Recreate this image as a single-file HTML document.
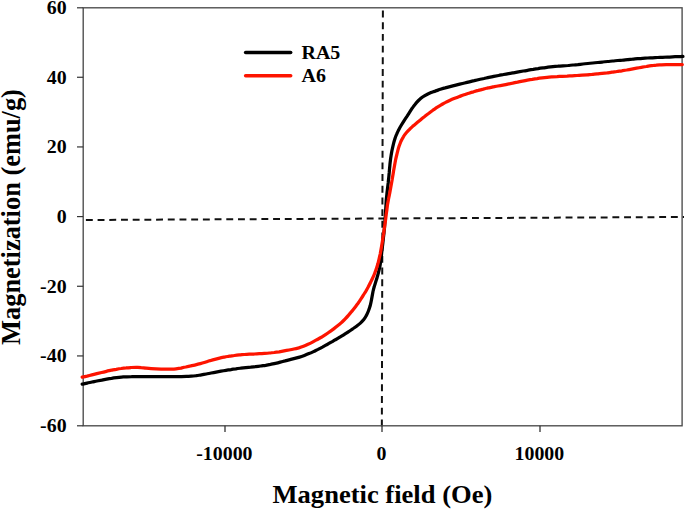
<!DOCTYPE html><html><head><meta charset="utf-8"><title>Magnetization</title>
<style>html,body{margin:0;padding:0;background:#fff}svg{display:block}text{font-family:"Liberation Serif","Times New Roman",serif;font-weight:bold;fill:#000}</style></head><body>
<svg width="685" height="510" viewBox="0 0 685 510">
<rect width="685" height="510" fill="#fff"/>
<line x1="85.9" y1="220" x2="684" y2="217" stroke="#111" stroke-width="2" stroke-dasharray="6.9 4.8"/>
<line x1="382.9" y1="10.6" x2="381.85" y2="426.5" stroke="#111" stroke-width="2" stroke-dasharray="6.9 4.78"/>
<rect x="83.2" y="7.8" width="598.9" height="418.0" fill="none" stroke="#4a4a4a" stroke-width="1.35"/>
<line x1="77" y1="7.80" x2="83.2" y2="7.80" stroke="#333" stroke-width="1.2"/>
<line x1="77" y1="77.27" x2="83.2" y2="77.27" stroke="#333" stroke-width="1.2"/>
<line x1="77" y1="146.93" x2="83.2" y2="146.93" stroke="#333" stroke-width="1.2"/>
<line x1="77" y1="216.60" x2="83.2" y2="216.60" stroke="#333" stroke-width="1.2"/>
<line x1="77" y1="286.27" x2="83.2" y2="286.27" stroke="#333" stroke-width="1.2"/>
<line x1="77" y1="355.93" x2="83.2" y2="355.93" stroke="#333" stroke-width="1.2"/>
<line x1="77" y1="425.80" x2="83.2" y2="425.80" stroke="#333" stroke-width="1.2"/>
<line x1="225.0" y1="425.8" x2="225.0" y2="432" stroke="#333" stroke-width="1.3"/>
<line x1="382.0" y1="425.8" x2="382.0" y2="432" stroke="#333" stroke-width="1.3"/>
<line x1="540.0" y1="425.8" x2="540.0" y2="432" stroke="#333" stroke-width="1.3"/>
<path d="M82.2,384.2 C83.0,384.0 85.5,383.5 87.1,383.1 C88.7,382.7 90.3,382.4 92.0,382.0 C93.6,381.7 95.2,381.3 96.9,381.0 C98.5,380.7 100.1,380.4 101.8,380.1 C103.4,379.8 105.0,379.5 106.7,379.2 C108.3,378.9 110.0,378.6 111.6,378.4 C113.3,378.1 114.9,377.9 116.6,377.7 C118.2,377.5 119.9,377.3 121.5,377.1 C123.2,377.0 124.9,376.8 126.5,376.8 C128.2,376.7 129.8,376.6 131.5,376.6 C133.2,376.5 134.8,376.5 136.5,376.5 C138.2,376.5 139.8,376.5 141.5,376.5 C143.2,376.5 144.8,376.5 146.5,376.5 C148.2,376.5 149.8,376.5 151.5,376.5 C153.2,376.5 154.8,376.5 156.5,376.5 C158.2,376.5 159.8,376.5 161.5,376.5 C163.2,376.5 164.8,376.5 166.5,376.5 C168.2,376.5 169.8,376.5 171.5,376.5 C173.2,376.5 174.8,376.5 176.5,376.5 C178.2,376.5 179.8,376.5 181.5,376.5 C183.2,376.5 184.8,376.5 186.5,376.4 C188.2,376.4 189.8,376.3 191.5,376.2 C193.2,376.1 194.8,375.9 196.5,375.7 C198.1,375.4 199.7,375.2 201.4,374.9 C203.0,374.6 204.7,374.3 206.3,374.0 C207.9,373.7 209.6,373.3 211.2,373.0 C212.8,372.7 214.5,372.4 216.1,372.1 C217.8,371.8 219.4,371.5 221.0,371.2 C222.7,370.9 224.3,370.6 226.0,370.3 C227.6,370.1 229.3,369.8 230.9,369.6 C232.6,369.3 234.2,369.1 235.9,368.9 C237.5,368.6 239.2,368.4 240.8,368.2 C242.5,368.0 244.1,367.8 245.8,367.6 C247.4,367.4 249.1,367.2 250.7,367.1 C252.4,366.9 254.1,366.7 255.7,366.6 C257.4,366.4 259.0,366.2 260.7,366.0 C262.3,365.8 264.0,365.5 265.6,365.3 C267.3,365.0 268.9,364.7 270.5,364.4 C272.2,364.0 273.8,363.7 275.4,363.3 C277.1,363.0 278.7,362.6 280.3,362.1 C281.9,361.7 283.5,361.3 285.1,360.9 C286.7,360.4 288.3,360.0 290.0,359.6 C291.6,359.2 293.2,358.8 294.8,358.4 C296.4,358.0 298.0,357.6 299.6,357.1 C301.2,356.7 302.8,356.1 304.4,355.5 C305.9,354.9 307.4,354.3 309.0,353.6 C310.5,353.0 312.0,352.3 313.5,351.6 C315.0,350.9 316.5,350.1 318.0,349.4 C319.5,348.6 321.0,347.8 322.4,347.1 C323.9,346.3 325.4,345.5 326.8,344.7 C328.3,343.9 329.7,343.1 331.2,342.2 C332.6,341.4 334.1,340.6 335.5,339.7 C337.0,338.9 338.4,338.1 339.8,337.2 C341.3,336.3 342.7,335.5 344.1,334.6 C345.5,333.7 346.9,332.9 348.3,331.9 C349.7,331.0 351.1,330.0 352.4,329.1 C353.8,328.1 355.2,327.2 356.5,326.2 C357.8,325.2 359.2,324.2 360.4,323.1 C361.6,322.0 362.8,320.8 363.8,319.5 C364.8,318.3 365.6,316.8 366.4,315.4 C367.2,313.9 367.9,312.4 368.5,310.8 C369.1,309.3 369.6,307.7 370.1,306.1 C370.5,304.5 370.9,302.9 371.2,301.3 C371.5,299.7 371.8,298.0 372.1,296.4 C372.4,294.7 372.7,293.1 373.0,291.5 C373.4,289.8 373.8,288.2 374.3,286.6 C374.7,285.0 375.3,283.5 375.7,281.9 C376.2,280.3 376.8,278.7 377.2,277.1 C377.7,275.5 378.1,273.9 378.5,272.3 C378.9,270.7 379.3,269.0 379.7,267.4 C380.0,265.8 380.3,264.1 380.5,262.5 C380.8,260.8 381.0,259.2 381.2,257.5 C381.4,255.9 381.5,254.2 381.7,252.6 C381.9,250.9 382.1,249.3 382.3,247.6 C382.5,245.9 382.7,244.3 382.9,242.6 C383.1,241.0 383.3,239.3 383.4,237.7 C383.6,236.0 383.8,234.4 384.0,232.7 C384.1,231.0 384.3,229.4 384.5,227.7 C384.6,226.1 384.7,224.4 384.8,222.7 C385.0,221.1 385.1,219.4 385.2,217.7 C385.3,216.1 385.4,214.4 385.5,212.8 C385.6,211.1 385.7,209.4 385.8,207.8 C385.9,206.1 386.0,204.4 386.1,202.8 C386.2,201.1 386.3,199.5 386.5,197.8 C386.7,196.1 386.9,194.5 387.0,192.8 C387.2,191.2 387.4,189.5 387.6,187.9 C387.8,186.2 388.0,184.5 388.2,182.9 C388.3,181.2 388.5,179.6 388.7,177.9 C388.9,176.3 389.0,174.6 389.2,172.9 C389.3,171.3 389.5,169.6 389.6,168.0 C389.8,166.3 389.9,164.6 390.1,163.0 C390.3,161.3 390.5,159.7 390.7,158.0 C391.0,156.4 391.2,154.7 391.5,153.1 C391.8,151.4 392.1,149.8 392.5,148.2 C392.8,146.6 393.2,144.9 393.6,143.3 C394.0,141.7 394.5,140.1 395.0,138.5 C395.5,137.0 396.1,135.4 396.8,133.9 C397.4,132.4 398.2,130.9 398.9,129.4 C399.7,127.9 400.5,126.5 401.4,125.0 C402.2,123.6 403.1,122.2 404.0,120.8 C404.9,119.4 405.8,118.0 406.8,116.6 C407.7,115.2 408.6,113.8 409.5,112.4 C410.4,111.0 411.3,109.6 412.2,108.2 C413.2,106.9 414.1,105.5 415.2,104.2 C416.2,102.9 417.3,101.7 418.5,100.5 C419.7,99.4 420.9,98.3 422.2,97.3 C423.6,96.3 425.0,95.4 426.4,94.7 C427.9,93.9 429.4,93.3 431.0,92.6 C432.5,92.0 434.1,91.5 435.6,90.9 C437.2,90.4 438.8,89.8 440.4,89.3 C442.0,88.8 443.6,88.3 445.2,87.9 C446.8,87.4 448.4,87.0 450.0,86.6 C451.6,86.2 453.2,85.8 454.9,85.4 C456.5,85.0 458.1,84.6 459.7,84.2 C461.3,83.8 462.9,83.4 464.6,83.0 C466.2,82.6 467.8,82.2 469.4,81.8 C471.0,81.4 472.7,81.0 474.3,80.7 C475.9,80.3 477.5,79.9 479.2,79.5 C480.8,79.2 482.4,78.8 484.0,78.5 C485.7,78.1 487.3,77.8 488.9,77.4 C490.6,77.1 492.2,76.8 493.8,76.4 C495.5,76.1 497.1,75.8 498.7,75.5 C500.4,75.2 502.0,74.8 503.6,74.5 C505.3,74.2 506.9,73.9 508.6,73.6 C510.2,73.4 511.8,73.1 513.5,72.8 C515.1,72.5 516.8,72.2 518.4,71.9 C520.1,71.6 521.7,71.3 523.3,71.0 C525.0,70.8 526.6,70.5 528.3,70.2 C529.9,69.9 531.6,69.6 533.2,69.4 C534.8,69.1 536.5,68.8 538.1,68.6 C539.8,68.3 541.4,68.1 543.1,67.9 C544.7,67.7 546.4,67.4 548.0,67.2 C549.7,67.0 551.3,66.8 553.0,66.6 C554.7,66.4 556.3,66.3 558.0,66.2 C559.6,66.0 561.3,65.9 563.0,65.8 C564.6,65.7 566.3,65.6 568.0,65.5 C569.6,65.3 571.3,65.2 572.9,65.0 C574.6,64.9 576.3,64.7 577.9,64.6 C579.6,64.4 581.2,64.2 582.9,64.0 C584.5,63.9 586.2,63.7 587.9,63.5 C589.5,63.4 591.2,63.2 592.8,63.0 C594.5,62.9 596.2,62.7 597.8,62.5 C599.5,62.4 601.1,62.2 602.8,62.0 C604.4,61.9 606.1,61.7 607.8,61.5 C609.4,61.3 611.1,61.2 612.7,61.0 C614.4,60.8 616.0,60.7 617.7,60.5 C619.4,60.4 621.0,60.2 622.7,60.1 C624.3,59.9 626.0,59.8 627.7,59.6 C629.3,59.5 631.0,59.3 632.6,59.2 C634.3,59.0 636.0,58.9 637.6,58.7 C639.3,58.6 640.9,58.5 642.6,58.3 C644.3,58.2 645.9,58.1 647.6,58.0 C649.3,57.9 650.9,57.9 652.6,57.8 C654.3,57.7 655.9,57.6 657.6,57.5 C659.3,57.4 660.9,57.4 662.6,57.3 C664.2,57.2 665.9,57.1 667.6,57.0 C669.2,57.0 670.9,56.9 672.6,56.8 C674.2,56.7 675.9,56.7 677.6,56.6 C679.2,56.6 681.7,56.5 682.6,56.4 C683.4,56.4 682.6,56.4 682.6,56.4" fill="none" stroke="#000" stroke-width="3.25" stroke-linejoin="round" stroke-linecap="round"/>
<path d="M82.2,377.2 C83.0,377.0 85.4,376.4 87.1,376.1 C88.7,375.7 90.3,375.3 91.9,374.9 C93.6,374.5 95.2,374.1 96.8,373.7 C98.4,373.3 100.0,372.9 101.6,372.5 C103.3,372.1 104.9,371.7 106.5,371.3 C108.1,370.9 109.7,370.6 111.4,370.2 C113.0,369.9 114.6,369.5 116.3,369.3 C117.9,369.0 119.6,368.7 121.2,368.5 C122.9,368.2 124.5,368.0 126.2,367.9 C127.8,367.7 129.5,367.6 131.1,367.5 C132.8,367.4 134.5,367.4 136.1,367.4 C137.8,367.5 139.5,367.5 141.1,367.7 C142.8,367.8 144.4,368.0 146.1,368.1 C147.7,368.3 149.4,368.5 151.1,368.6 C152.7,368.7 154.4,368.8 156.1,368.9 C157.7,369.0 159.4,369.0 161.1,369.0 C162.7,369.1 164.4,369.1 166.0,369.1 C167.7,369.1 169.4,369.1 171.0,369.0 C172.7,369.0 174.4,369.0 176.0,368.8 C177.7,368.6 179.3,368.4 180.9,368.1 C182.6,367.7 184.2,367.3 185.8,367.0 C187.4,366.6 189.0,366.2 190.7,365.9 C192.3,365.5 193.9,365.2 195.6,364.8 C197.2,364.4 198.8,364.0 200.4,363.6 C202.0,363.2 203.6,362.7 205.2,362.2 C206.8,361.7 208.4,361.1 210.0,360.7 C211.6,360.2 213.2,359.7 214.8,359.3 C216.4,358.9 218.0,358.5 219.6,358.1 C221.2,357.7 222.9,357.4 224.5,357.1 C226.1,356.7 227.8,356.5 229.4,356.2 C231.1,356.0 232.7,355.7 234.4,355.5 C236.0,355.3 237.7,355.1 239.3,354.9 C241.0,354.8 242.7,354.6 244.3,354.5 C246.0,354.4 247.6,354.3 249.3,354.2 C251.0,354.1 252.6,354.0 254.3,354.0 C256.0,353.9 257.6,353.8 259.3,353.7 C261.0,353.6 262.6,353.5 264.3,353.4 C265.9,353.3 267.6,353.2 269.3,353.0 C270.9,352.8 272.6,352.7 274.2,352.5 C275.9,352.2 277.5,352.0 279.2,351.8 C280.8,351.5 282.5,351.2 284.1,350.9 C285.7,350.6 287.4,350.3 289.0,350.0 C290.7,349.7 292.3,349.4 293.9,349.0 C295.5,348.7 297.2,348.3 298.8,347.9 C300.4,347.4 301.9,346.9 303.5,346.3 C305.0,345.7 306.5,345.0 308.0,344.3 C309.6,343.6 311.0,342.9 312.5,342.1 C314.0,341.3 315.5,340.5 316.9,339.7 C318.4,338.9 319.8,338.1 321.3,337.3 C322.7,336.4 324.1,335.5 325.5,334.6 C326.9,333.7 328.3,332.8 329.6,331.8 C331.0,330.9 332.4,329.9 333.7,328.9 C335.0,327.9 336.3,326.9 337.6,325.8 C338.9,324.8 340.2,323.7 341.4,322.6 C342.7,321.4 343.9,320.3 345.0,319.1 C346.2,317.9 347.3,316.7 348.4,315.4 C349.5,314.2 350.6,312.9 351.6,311.6 C352.7,310.3 353.7,309.0 354.7,307.7 C355.7,306.4 356.7,305.0 357.7,303.7 C358.7,302.3 359.6,301.0 360.5,299.6 C361.5,298.2 362.4,296.8 363.2,295.4 C364.1,294.0 365.0,292.5 365.9,291.1 C366.7,289.7 367.5,288.2 368.3,286.8 C369.1,285.3 369.9,283.8 370.6,282.3 C371.4,280.8 372.1,279.3 372.8,277.8 C373.5,276.3 374.1,274.8 374.7,273.2 C375.3,271.7 375.9,270.1 376.4,268.5 C377.0,267.0 377.4,265.4 377.9,263.8 C378.3,262.2 378.7,260.5 379.1,258.9 C379.5,257.3 379.8,255.7 380.2,254.0 C380.5,252.4 380.8,250.8 381.1,249.1 C381.4,247.5 381.7,245.8 381.9,244.2 C382.2,242.5 382.5,240.9 382.7,239.3 C383.0,237.6 383.2,236.0 383.5,234.3 C383.7,232.7 384.0,231.0 384.2,229.4 C384.5,227.7 384.7,226.1 384.9,224.4 C385.2,222.8 385.4,221.1 385.6,219.5 C385.8,217.8 386.0,216.2 386.2,214.5 C386.4,212.8 386.7,211.2 386.9,209.5 C387.1,207.9 387.3,206.2 387.5,204.6 C387.8,202.9 388.1,201.3 388.4,199.7 C388.7,198.0 389.1,196.4 389.4,194.8 C389.7,193.2 390.0,191.5 390.3,189.9 C390.6,188.2 390.9,186.6 391.2,185.0 C391.5,183.3 391.8,181.7 392.1,180.0 C392.3,178.4 392.6,176.8 392.9,175.1 C393.2,173.5 393.4,171.8 393.7,170.2 C394.0,168.5 394.3,166.9 394.6,165.3 C394.9,163.6 395.2,162.0 395.5,160.3 C395.8,158.7 396.2,157.1 396.6,155.5 C397.0,153.8 397.4,152.2 397.8,150.6 C398.2,149.0 398.7,147.4 399.2,145.8 C399.8,144.3 400.4,142.7 401.0,141.2 C401.7,139.7 402.5,138.2 403.4,136.8 C404.2,135.4 405.2,134.1 406.3,132.8 C407.3,131.6 408.5,130.3 409.7,129.2 C410.8,128.0 412.1,126.9 413.3,125.8 C414.6,124.7 415.9,123.7 417.2,122.6 C418.5,121.5 419.7,120.5 421.0,119.4 C422.3,118.4 423.6,117.3 424.9,116.3 C426.2,115.2 427.5,114.2 428.9,113.2 C430.2,112.2 431.5,111.2 432.9,110.2 C434.3,109.3 435.6,108.3 437.0,107.4 C438.4,106.5 439.8,105.7 441.3,104.8 C442.7,104.0 444.2,103.1 445.6,102.4 C447.1,101.6 448.6,100.9 450.1,100.2 C451.7,99.5 453.2,98.9 454.7,98.3 C456.3,97.7 457.8,97.1 459.4,96.5 C461.0,95.9 462.5,95.3 464.1,94.8 C465.7,94.3 467.3,93.7 468.9,93.2 C470.4,92.7 472.0,92.2 473.6,91.8 C475.2,91.3 476.8,90.8 478.4,90.4 C480.0,89.9 481.6,89.5 483.3,89.1 C484.9,88.6 486.5,88.3 488.1,87.9 C489.7,87.6 491.4,87.3 493.0,86.9 C494.7,86.6 496.3,86.4 497.9,86.0 C499.6,85.7 501.2,85.4 502.9,85.1 C504.5,84.8 506.1,84.5 507.8,84.1 C509.4,83.8 511.0,83.5 512.7,83.2 C514.3,82.8 515.9,82.5 517.6,82.2 C519.2,81.8 520.8,81.5 522.5,81.2 C524.1,80.9 525.7,80.6 527.4,80.2 C529.0,79.9 530.7,79.6 532.3,79.4 C533.9,79.1 535.6,78.8 537.2,78.6 C538.9,78.3 540.5,78.1 542.2,77.9 C543.8,77.7 545.5,77.5 547.1,77.3 C548.8,77.1 550.5,77.0 552.1,76.9 C553.8,76.7 555.4,76.6 557.1,76.6 C558.8,76.5 560.4,76.4 562.1,76.3 C563.8,76.2 565.4,76.1 567.1,76.1 C568.8,76.0 570.4,75.9 572.1,75.8 C573.8,75.7 575.4,75.6 577.1,75.5 C578.7,75.3 580.4,75.2 582.1,75.1 C583.7,75.0 585.4,74.9 587.1,74.8 C588.7,74.7 590.4,74.5 592.0,74.4 C593.7,74.2 595.4,74.1 597.0,73.9 C598.7,73.7 600.3,73.6 602.0,73.4 C603.6,73.2 605.3,73.0 607.0,72.9 C608.6,72.7 610.3,72.4 611.9,72.2 C613.6,72.0 615.2,71.7 616.9,71.5 C618.5,71.3 620.2,71.0 621.8,70.8 C623.5,70.5 625.1,70.2 626.7,70.0 C628.4,69.7 630.0,69.4 631.7,69.1 C633.3,68.8 635.0,68.5 636.6,68.2 C638.2,67.9 639.9,67.6 641.5,67.3 C643.2,67.0 644.8,66.7 646.4,66.5 C648.1,66.2 649.7,65.9 651.4,65.7 C653.0,65.5 654.7,65.2 656.3,65.1 C658.0,64.9 659.7,64.9 661.3,64.8 C663.0,64.7 664.6,64.7 666.3,64.7 C668.0,64.7 669.6,64.7 671.3,64.7 C673.0,64.7 674.6,64.7 676.3,64.7 C678.0,64.6 680.3,64.6 681.3,64.6 C682.3,64.6 682.1,64.6 682.3,64.6" fill="none" stroke="#fd1400" stroke-width="3.25" stroke-linejoin="round" stroke-linecap="round"/>
<text transform="translate(66.60,14.10) scale(1.03,1)" font-size="19.3" text-anchor="end">60</text>
<text transform="translate(66.60,83.77) scale(1.03,1)" font-size="19.3" text-anchor="end">40</text>
<text transform="translate(66.60,153.43) scale(1.03,1)" font-size="19.3" text-anchor="end">20</text>
<text transform="translate(66.60,223.10) scale(1.03,1)" font-size="19.3" text-anchor="end">0</text>
<text transform="translate(66.60,292.77) scale(1.03,1)" font-size="19.3" text-anchor="end">-20</text>
<text transform="translate(66.60,362.43) scale(1.03,1)" font-size="19.3" text-anchor="end">-40</text>
<text transform="translate(66.60,432.10) scale(1.03,1)" font-size="19.3" text-anchor="end">-60</text>
<text transform="translate(224.40,460.00) scale(1.03,1)" font-size="19.3" text-anchor="middle">-10000</text>
<text transform="translate(381.40,460.00) scale(1.03,1)" font-size="19.3" text-anchor="middle">0</text>
<text transform="translate(539.40,460.00) scale(1.03,1)" font-size="19.3" text-anchor="middle">10000</text>
<line x1="245.6" y1="52.5" x2="290.7" y2="52.5" stroke="#000" stroke-width="3.5" stroke-linecap="round"/>
<line x1="245.6" y1="75.8" x2="290.7" y2="75.8" stroke="#fd1400" stroke-width="3.5" stroke-linecap="round"/>
<text transform="translate(301.50,58.70) scale(1.03,1)" font-size="19.4" text-anchor="start">RA5</text>
<text transform="translate(301.50,82.00) scale(1.03,1)" font-size="19.4" text-anchor="start">A6</text>
<text transform="translate(382.40,503.20) scale(1.03,1)" font-size="25.8" text-anchor="middle">Magnetic field (Oe)</text>
<text transform="translate(19.6,217) rotate(-90)" font-size="26.4" text-anchor="middle">Magnetization (emu/g)</text>
</svg></body></html>
